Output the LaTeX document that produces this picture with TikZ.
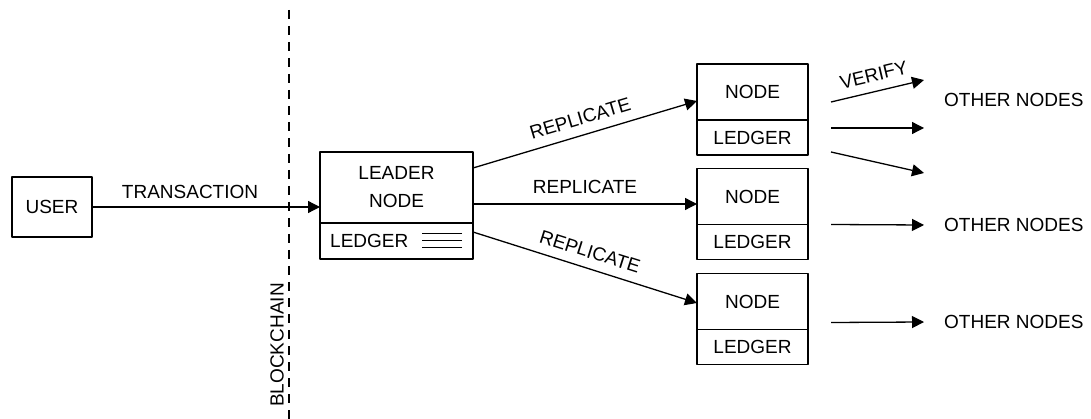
\documentclass[tikz,border=0pt]{standalone}
\usepackage{fontspec}
\setmainfont{Liberation Sans}
\usetikzlibrary{arrows.meta,positioning}
\tikzset{
  cell/.style={draw,line width=1.2pt,inner sep=0pt,outer sep=0pt},
  flow/.style={-{Triangle[length=12pt,width=12pt]},line width=1.3pt},
}
\begin{document}
\begin{tikzpicture}[x=1pt,y=-1pt,line join=round,font=\fontsize{19}{28}\selectfont]
	\useasboundingbox (0,0) rectangle (1091,419);
	% user, boundary and leader
	\node[cell,minimum width=80pt,minimum height=60pt] (user) at (52,207) {USER};
	\coordinate (ctop) at (289,10); \coordinate (cbot) at (289,419);
	\draw[line width=1.1pt,dash pattern=on 9pt off 7pt] (ctop)--(cbot);
	\node[rotate=90,inner sep=0pt] (chain) at (277,345) {BLOCKCHAIN};
	\node[cell,minimum width=153pt,minimum height=71pt,align=center] (leader) at (396.5,187.5) {LEADER\\NODE};
	\node[cell,minimum width=153pt,minimum height=36pt,below=0pt of leader] (lled) {};
	\node[anchor=west,inner sep=0pt] (ltext) at ([xshift=10pt]lled.west) {LEDGER};
	\foreach \s in {7,0,-7} \draw[line width=1pt] ([xshift=-11pt,yshift=\s pt]lled.east)--++(-40,0);
	\draw[flow] (user.east)--node[above=4pt,pos=0.43]{TRANSACTION} (user.east -| leader.west);
	% nodes with ledgers
	\foreach \n/\y in {1/92,2/196.5,3/301.5}{
		\node[cell,minimum width=111pt,minimum height=56pt] (n\n) at (752.5,\y) {NODE};
		\node[cell,minimum width=111pt,minimum height=35pt,below=0pt of n\n] (l\n) {LEDGER};
	}
	\draw[flow] ([yshift=19.5pt]leader.east)--node[above=6pt,sloped]{REPLICATE} ([yshift=-9pt]n1.west);
	\draw[flow] ([yshift=-16.5pt]leader.east)--node[above=6pt]{REPLICATE} ([yshift=-16.5pt]leader.east -| n2.west);
	\draw[flow] ([yshift=9pt]lled.east)--node[above=6pt,sloped]{REPLICATE} ([yshift=-1.5pt]n3.west);
	% other nodes
	\foreach \n/\y in {1/100,2/225,3/322} \node[anchor=west,inner sep=0pt] (o\n) at (944,\y) {OTHER NODES};
	\draw[flow] ([xshift=23pt,yshift=-10pt]n1.east)--node[above=6pt,sloped]{VERIFY} ([xshift=-20pt,yshift=20pt]o1.west);
	\draw[flow] ([xshift=23pt,yshift=9.5pt]l1.east)--([xshift=-20pt,yshift=-28pt]o1.west);
	\draw[flow] ([xshift=23pt,yshift=3pt]l1.south east)--([xshift=-20pt,yshift=-73pt]o1.west);
	\draw[flow] ([xshift=23pt]l2.north east)--([xshift=-20pt]o2.west);
	\draw[flow] ([xshift=23pt,yshift=7pt]n3.south east)--([xshift=-20pt]o3.west);
\end{tikzpicture}
\end{document}
